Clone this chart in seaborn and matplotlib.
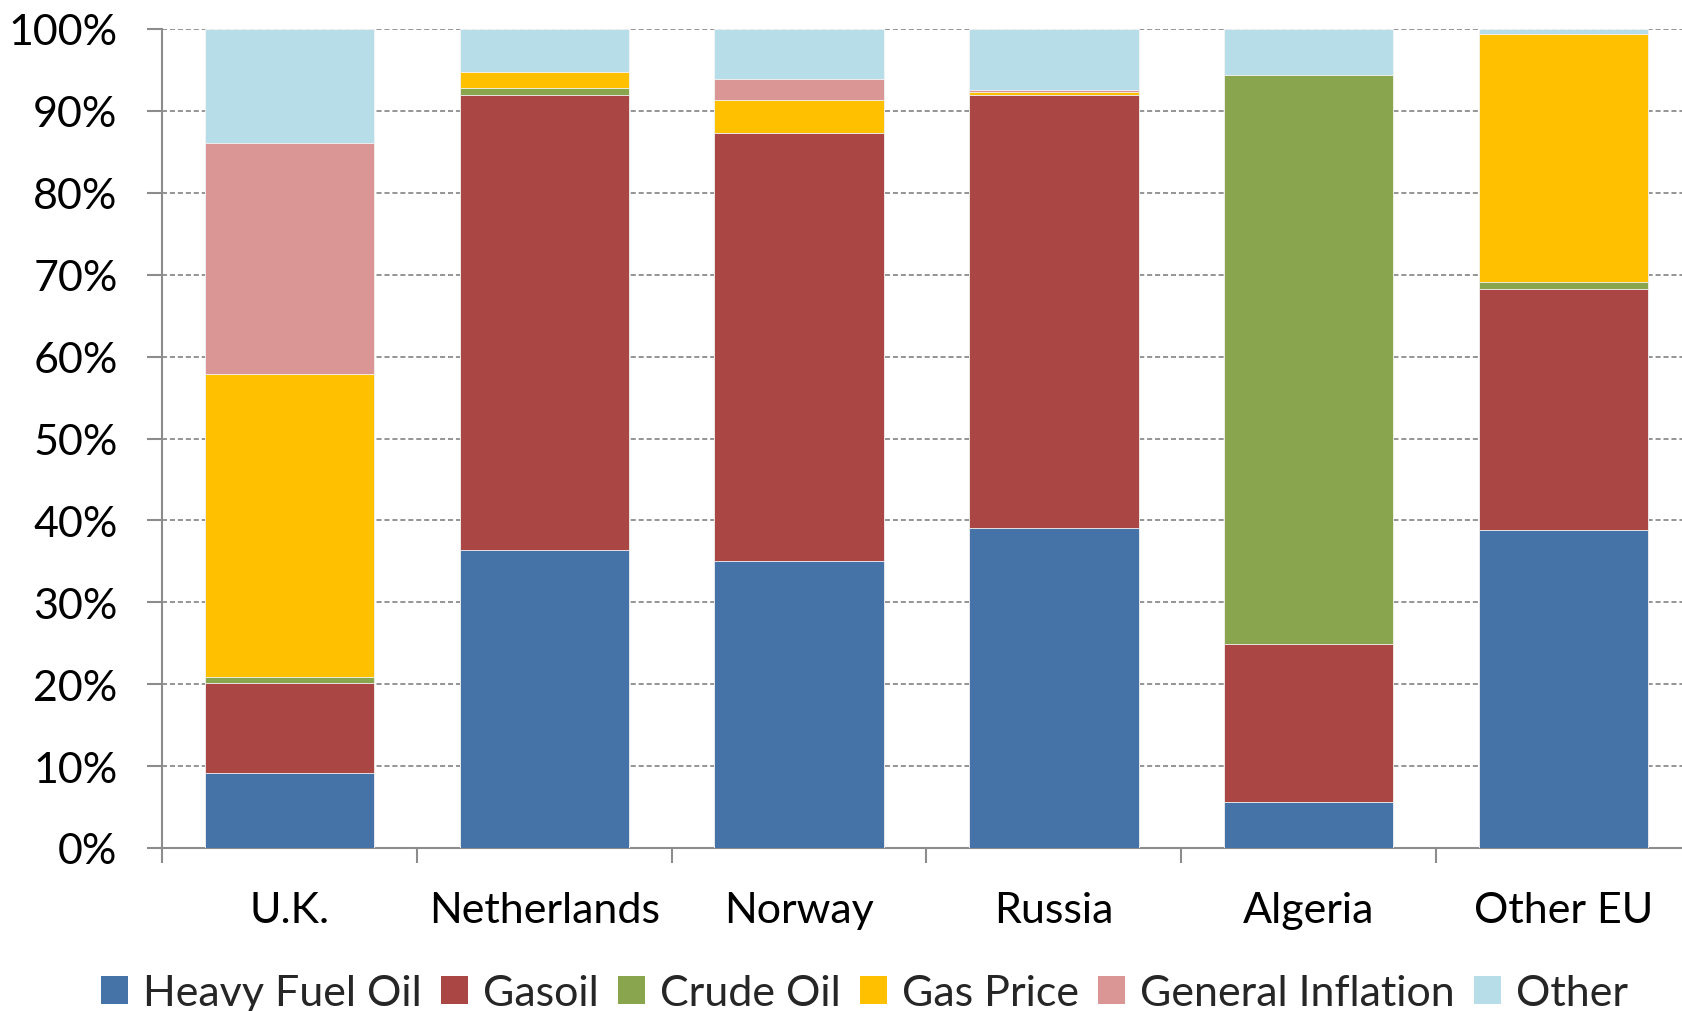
import numpy as np
import pandas as pd
import matplotlib
matplotlib.use("Agg")
import matplotlib.pyplot as plt
from matplotlib.patches import Patch
from matplotlib.ticker import FixedLocator, PercentFormatter
import seaborn as sns

# Share of each cost driver per supply source (%)
countries = ["U.K.", "Netherlands", "Norway", "Russia", "Algeria", "Other EU"]
heavy_fuel_oil = [9.2, 36.4, 35.1, 39.1, 5.65, 38.8]
gasoil = [10.9, 55.6, 52.2, 52.8, 19.25, 29.4]
crude_oil = [0.8, 0.8, 0.0, 0.0, 69.5, 0.95]
gas_price = [37.0, 1.9, 4.0, 0.4, 0.0, 30.2]
general_inflation = [28.2, 0.0, 2.6, 0.2, 0.0, 0.0]
other = [13.9, 5.3, 6.1, 7.5, 5.6, 0.65]

components = ["Heavy Fuel Oil", "Gasoil", "Crude Oil", "Gas Price",
              "General Inflation", "Other"]
colors = ["#4572A7", "#AA4643", "#89A54E", "#FFC000", "#DA9694", "#B7DEE8"]

df = pd.DataFrame({
    "country": countries,
    "Heavy Fuel Oil": heavy_fuel_oil,
    "Gasoil": gasoil,
    "Crude Oil": crude_oil,
    "Gas Price": gas_price,
    "General Inflation": general_inflation,
    "Other": other,
})
cum = df[components].cumsum(axis=1)
cum["country"] = df["country"]

sns.set_theme(style="white")
plt.rcParams["font.family"] = ["Lato", "DejaVu Sans"]
FS = 31

W, H = 1682, 1012
fig = plt.figure(figsize=(W / 100, H / 100), dpi=100)
ax = fig.add_axes([162 / W, 1 - 849 / H, 1529 / W, (849 - 30) / H])

# Stacked bars: draw cumulative totals from the top layer down
for comp, col in reversed(list(zip(components, colors))):
    sns.barplot(data=cum, x="country", y=comp, order=countries, color=col,
                width=0.665, saturation=1, edgecolor="#f4f4f4", linewidth=0.6,
                ax=ax, zorder=3)

grid_color = "#8c8c8c"
ax.set_xlim(-0.5, 5.5)
ax.set_ylim(0, 100)
ax.yaxis.set_major_locator(FixedLocator(np.arange(0, 101, 10)))
ax.yaxis.set_major_formatter(PercentFormatter(decimals=0))
ax.grid(axis="y", color=grid_color, linewidth=1.3, linestyle=(0, (2.8, 1.6)), zorder=0)
ax.grid(axis="x", visible=False)
ax.set_axisbelow(True)

for side in ["top", "right"]:
    ax.spines[side].set_visible(False)
for side in ["left", "bottom"]:
    ax.spines[side].set_color(grid_color)
    ax.spines[side].set_linewidth(1.5)

ax.set_xlabel("")
ax.set_ylabel("")
ax.tick_params(axis="y", which="major", direction="out", length=11, width=1.5,
               color=grid_color, pad=21, labelsize=FS, labelcolor="black", left=True)
ax.tick_params(axis="x", which="major", length=0, pad=31, labelsize=FS,
               labelcolor="black")
ax.set_xticks(range(len(countries)))
ax.set_xticklabels(countries)
ax.xaxis.set_minor_locator(FixedLocator(np.arange(-0.5, 5.6, 1.0)))
ax.tick_params(axis="x", which="minor", direction="out", length=11, width=1.5,
               color=grid_color, bottom=True)

handles = [Patch(facecolor=c, edgecolor="none", label=l) for c, l in zip(colors, components)]
fig.legend(handles=handles, loc="center", bbox_to_anchor=(0.514, 1 - 994 / H),
           ncol=6, frameon=False, fontsize=FS, handlelength=0.62, handleheight=0.62,
           handletextpad=0.35, columnspacing=0.45, borderaxespad=0)

fig.savefig("out.png", dpi=100)
